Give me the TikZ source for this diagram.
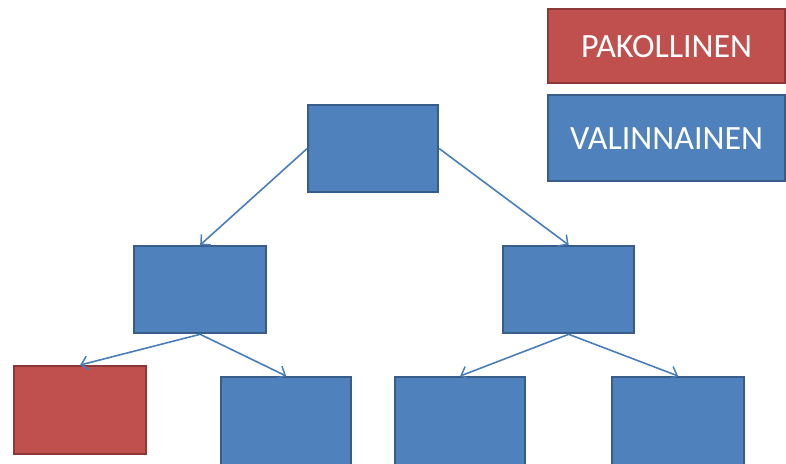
\documentclass[tikz,border=0pt]{standalone}
\usepackage{fontspec}
\setmainfont{Carlito}
\usetikzlibrary{arrows.meta}
\definecolor{bfill}{HTML}{4F81BD}
\definecolor{bline}{HTML}{385D8A}
\definecolor{rfill}{HTML}{C0504D}
\definecolor{rline}{HTML}{8C3836}
\definecolor{arr}{HTML}{4A7EBB}
\tikzset{
  bbox/.style={draw=bline, fill=bfill, line width=2.3pt, inner sep=0pt},
  rbox/.style={draw=rline, fill=rfill, line width=2.3pt, inner sep=0pt},
  conn/.style={draw=arr, line width=1.6pt, -{Straight Barb[length=7pt,width=14pt,line width=1.5pt]}},
  lbl/.style={text=white, font=\fontsize{34}{38}\selectfont}
}
\begin{document}
\begin{tikzpicture}[x=1pt,y=-1pt]
\useasboundingbox (0,0) rectangle (786,463);
\clip (0,0) rectangle (786,463);
\node[rbox, minimum width=237pt, minimum height=74pt, anchor=north west, lbl] (pak) at (547,8) {PAKOLLINEN};
\node[bbox, minimum width=237pt, minimum height=86pt, anchor=north west, lbl] (val) at (547,94) {VALINNAINEN};
\node[bbox, minimum width=130pt, minimum height=87pt, anchor=north west] (root) at (307,104) {};
\node[bbox, minimum width=132pt, minimum height=87pt, anchor=north west] (ml) at (133,245) {};
\node[bbox, minimum width=131pt, minimum height=87pt, anchor=north west] (mr) at (502,245) {};
\node[rbox, minimum width=132pt, minimum height=88pt, anchor=north west] (b1) at (13,365) {};
\node[bbox, minimum width=130pt, minimum height=90pt, anchor=north west] (b2) at (220,376) {};
\node[bbox, minimum width=130pt, minimum height=90pt, anchor=north west] (b3) at (394,376) {};
\node[bbox, minimum width=132pt, minimum height=90pt, anchor=north west] (b4) at (611,376) {};
\draw[conn] (root.west) -- (ml.north);
\draw[conn] (root.east) -- (mr.north);
\draw[conn] (ml.south) -- (b1.north);
\draw[conn] (ml.south) -- (b2.north);
\draw[conn] (mr.south) -- (b3.north);
\draw[conn] (mr.south) -- (b4.north);
\end{tikzpicture}
\end{document}
